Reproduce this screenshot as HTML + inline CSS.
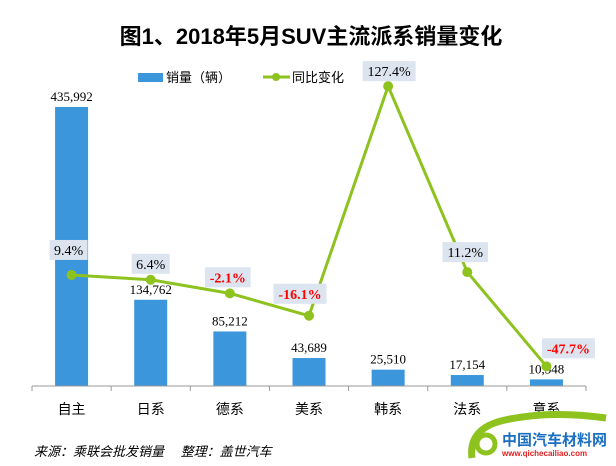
<!DOCTYPE html>
<html><head><meta charset="utf-8"><style>
body{margin:0;background:#fff;}
svg{display:block;font-family:"Liberation Serif","Noto Serif CJK SC",serif;}
.cjk{font-family:"Liberation Sans","Noto Sans CJK SC",sans-serif;}
</style></head><body>
<svg id="chart" width="616" height="466" viewBox="0 0 616 466">
<text x="311" y="44" text-anchor="middle" class="cjk" font-size="22" font-weight="bold" fill="#000">图1、2018年5月SUV主流派系销量变化</text>
<g>
<rect x="138" y="73" width="25" height="9" fill="#3b96dc"/>
<text x="166" y="82" class="cjk" font-size="13">销量（辆）</text>
<line x1="263" y1="77" x2="290" y2="77" stroke="#8dc21f" stroke-width="3"/>
<circle cx="276" cy="77" r="4" fill="#8dc21f"/>
<text x="292" y="82" class="cjk" font-size="13">同比变化</text>
</g>
<g id="plot"></g>
<text x="34" y="456" class="cjk" font-size="13" font-style="italic">来源：乘联会批发销量　 整理：盖世汽车</text>
<g>
<path d="M472 458 Q468 428 505 420 Q550 410 606 418" fill="none" stroke="#8dc21f" stroke-width="7"/>
<circle cx="486" cy="444" r="9" fill="none" stroke="#8dc21f" stroke-width="5"/>
<text x="502" y="445" class="cjk" font-size="15" font-weight="bold" fill="#1a6fc0">中国汽车材料网</text>
<text x="502" y="456" font-family="Liberation Sans,sans-serif" font-size="8" font-weight="bold" fill="#e02020">www.qichecailiao.com</text>
</g>
</svg>
<script>
const categories=["自主","日系","德系","美系","韩系","法系","意系"];
const sales=[435992,134762,85212,43689,25510,17154,10348];
const salesLabels=["435,992","134,762","85,212","43,689","25,510","17,154","10,348"];
const yoy=[9.4,6.4,-2.1,-16.1,127.4,11.2,-47.7];
const yoyLabels=["9.4%","6.4%","-2.1%","-16.1%","127.4%","11.2%","-47.7%"];
const NS="http://www.w3.org/2000/svg";
const g=document.getElementById('plot');
const x0=32,x1=586,yBase=386,yTop=66;
const bw=(x1-x0)/categories.length;
const xc=i=>x0+bw*(i+0.5);
const yS=v=>yBase-(v/500000)*(yBase-yTop);
const yP=v=>yBase-((v+60)/200)*(yBase-yTop);
function el(t,a){const e=document.createElementNS(NS,t);for(const k in a)e.setAttribute(k,a[k]);g.appendChild(e);return e;}
sales.forEach((v,i)=>{
 const r=el('rect',{x:xc(i)-16.5,y:yS(v),width:33,height:yBase-yS(v),fill:'#3b96dc'});
 
 
 const t=el('text',{x:xc(i),y:yS(v)-6,'text-anchor':'middle','font-size':'13'});
 t.textContent=salesLabels[i];
 
 
});
const ax=el('line',{x1:x0,y1:yBase,x2:x1,y2:yBase,stroke:'#999','stroke-width':1});


for(let i=0;i<=categories.length;i++){
 const tk=el('line',{x1:x0+bw*i,y1:yBase,x2:x0+bw*i,y2:yBase+5,stroke:'#999'});
 
 
}
categories.forEach((c,i)=>{
 const t=el('text',{x:xc(i),y:414,'text-anchor':'middle','font-size':'14',class:'cjk'});
 t.textContent=c;
 
 
});
const pts=yoy.map((v,i)=>xc(i)+','+yP(v)).join(' ');
const pl=el('polyline',{points:pts,fill:'none',stroke:'#8dc21f','stroke-width':3,'stroke-linejoin':'round'});


const off=[[-3,-25],[0,-16],[-2,-16],[-9,-22],[1,-15],[-2,-20],[22,-18]];
yoy.forEach((v,i)=>{
 const c=el('circle',{cx:xc(i),cy:yP(v),r:5,fill:'#8dc21f'});
 
 
 const lx=xc(i)+off[i][0],ly=yP(v)+off[i][1];
 const w=yoyLabels[i].length*7.5+8;
 const b=el('rect',{x:lx-w/2,y:ly-10,width:w,height:20,fill:'#dce4ef'});
 
 
 const neg=v<0;
 const t=el('text',{x:lx,y:ly+5,'text-anchor':'middle','font-size':'14',fill:neg?'#ff0000':'#000','font-weight':neg?'bold':'normal'});
 t.textContent=yoyLabels[i];
 
 
});
</script>
</body></html>
